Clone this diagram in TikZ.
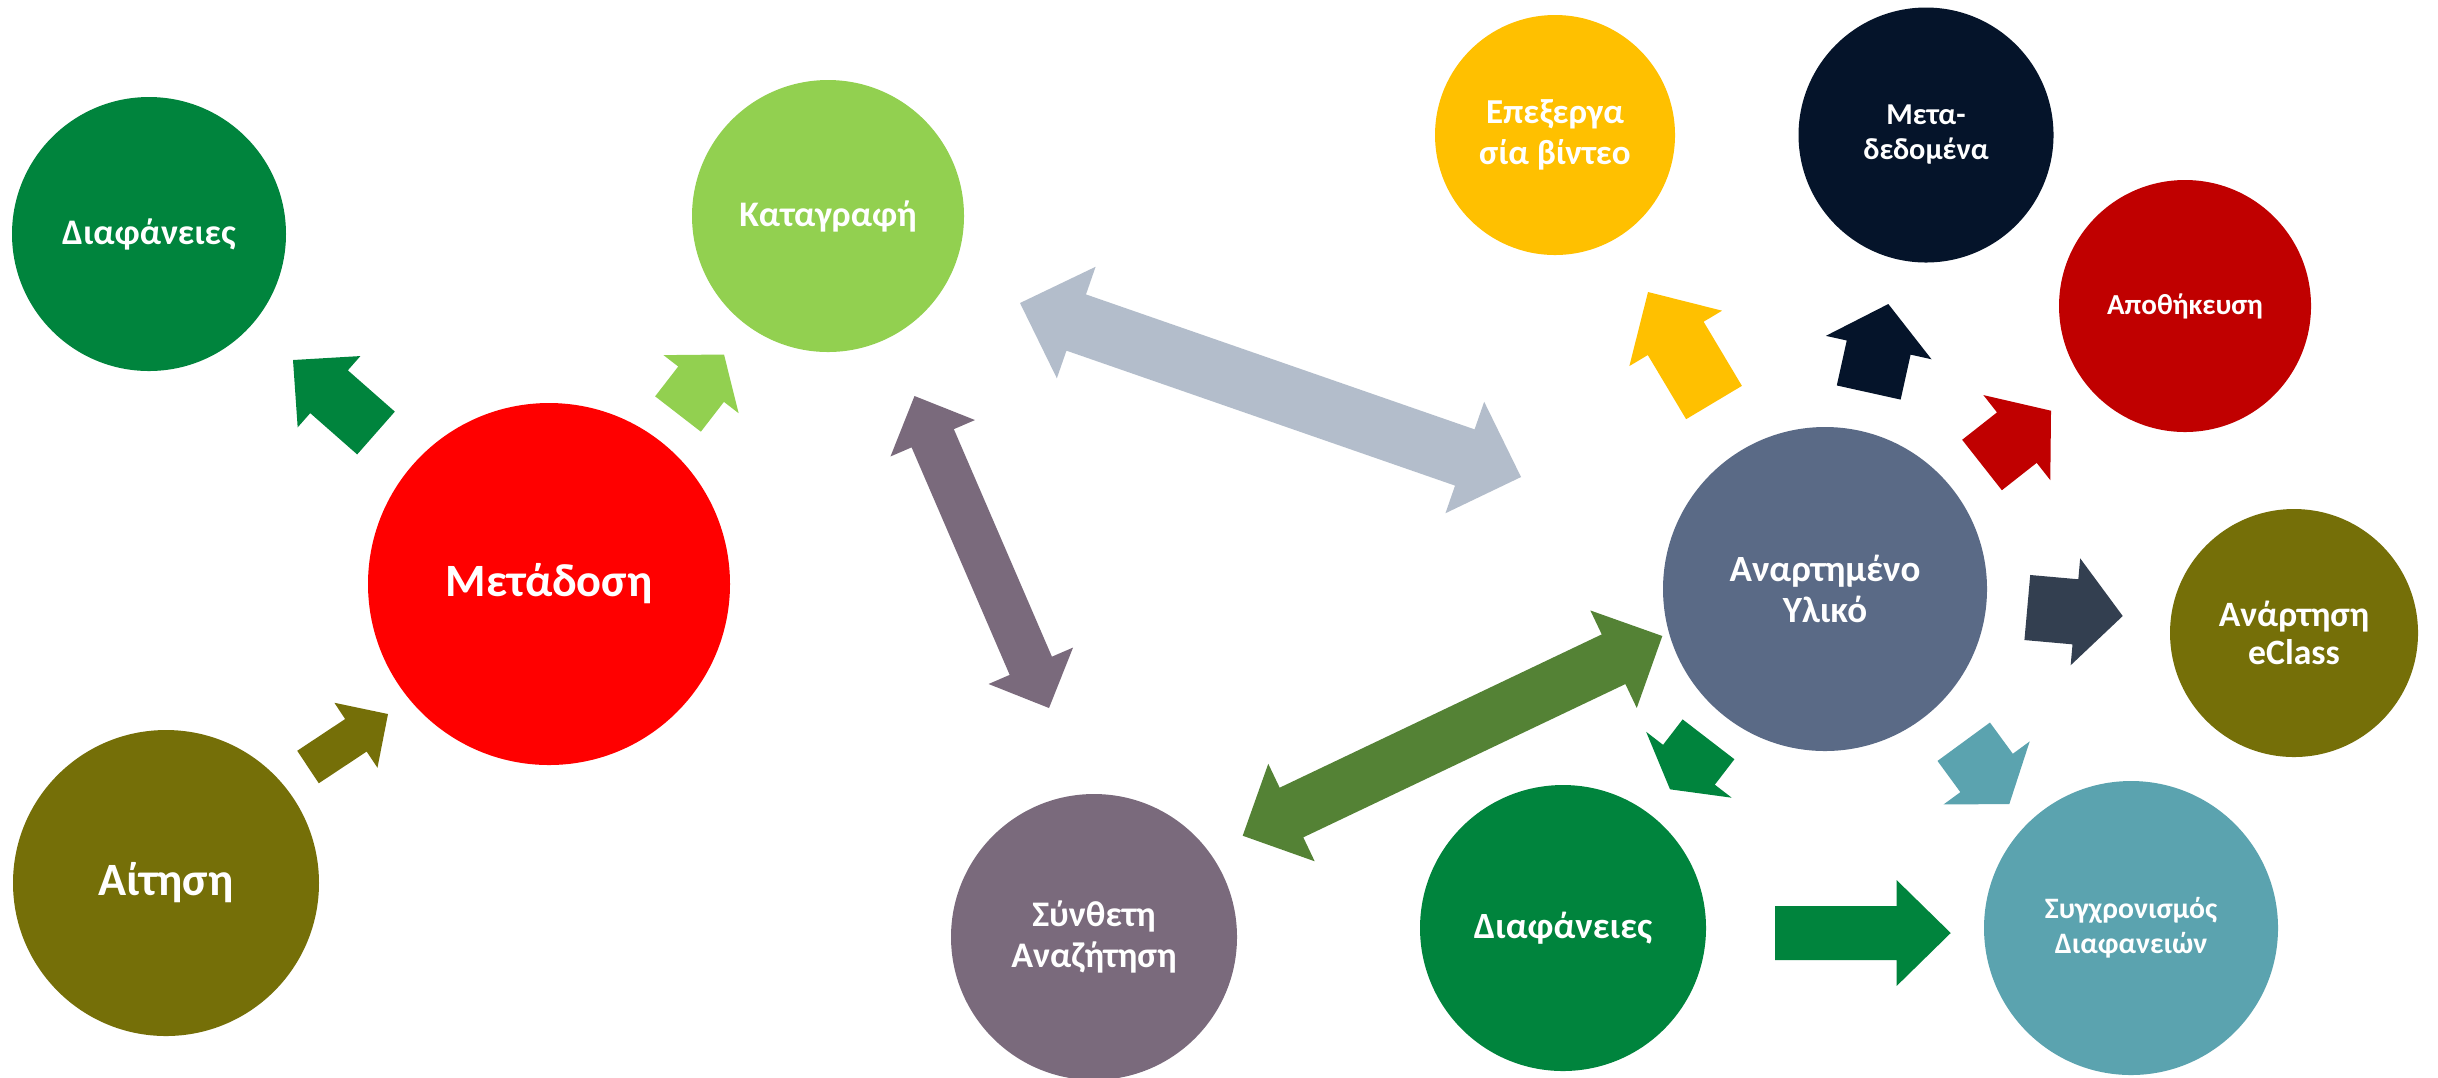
\documentclass[tikz,border=0pt]{standalone}
\usepackage{fontspec}
\setmainfont{Carlito}
\usetikzlibrary{calc}
\definecolor{cDkGreen}{RGB}{0,132,61}
\definecolor{cLtGreen}{RGB}{146,208,80}
\definecolor{cRed}{RGB}{255,0,0}
\definecolor{cOlive}{RGB}{117,111,8}
\definecolor{cYellow}{RGB}{255,192,0}
\definecolor{cNavy}{RGB}{5,20,42}
\definecolor{cDkRed}{RGB}{192,0,0}
\definecolor{cSlate}{RGB}{90,106,134}
\definecolor{cMauve}{RGB}{122,106,124}
\definecolor{cTeal}{RGB}{91,163,175}
\definecolor{cSteel}{RGB}{179,189,203}
\definecolor{cCharcoal}{RGB}{51,63,80}
\definecolor{cMoss}{RGB}{84,130,53}
% block arrow: #1 tail, #2 tip, #3 half shaft, #4 half head width, #5 head length, #6 colour
\newcommand\BArr[6]{%
  \coordinate (#2-h) at ($(#2)!#5!(#1)$);
  \fill[#6] ($(#1)!#3!90:(#2)$) -- ($(#2-h)!#3!90:(#2)$) -- ($(#2-h)!#4!90:(#2)$) -- (#2)
    -- ($(#2-h)!#4!-90:(#2)$) -- ($(#2-h)!#3!-90:(#2)$) -- ($(#1)!#3!-90:(#2)$) -- cycle;
}
% double block arrow: #1 tip a, #2 tip b
\newcommand\DArr[6]{%
  \coordinate (#1-h) at ($(#1)!#5!(#2)$);
  \coordinate (#2-h) at ($(#2)!#5!(#1)$);
  \fill[#6] (#1) -- ($(#1-h)!#4!90:(#2)$) -- ($(#1-h)!#3!90:(#2)$) -- ($(#2-h)!#3!-90:(#1)$)
    -- ($(#2-h)!#4!-90:(#1)$) -- (#2) -- ($(#2-h)!#4!90:(#1)$) -- ($(#2-h)!#3!90:(#1)$)
    -- ($(#1-h)!#3!-90:(#2)$) -- ($(#1-h)!#4!-90:(#2)$) -- cycle;
}
\begin{document}
\begin{tikzpicture}[x=0.3pt,y=-0.3pt,
  bubble/.style={circle, inner sep=0pt, align=center, text=white},
  fs/.style 2 args={font=\bfseries\fontsize{#1}{#2}\selectfont}]
\useasboundingbox (0,0) rectangle (2438,1077);
\fill[white] (0,0) rectangle (2438,1077);

\node[bubble, fill=cDkGreen, minimum size=82.2pt, fs={10.8pt}{13pt}] (dia1) at (149,234) {Διαφάνειες};
\node[bubble, fill=cLtGreen, minimum size=81.6pt, fs={10.8pt}{13pt}] (kat) at (828,216) {Καταγραφή};
\node[bubble, fill=cRed, minimum size=108.6pt, fs={13.9pt}{16pt}] (met) at (549,584) {Μετάδοση};
\node[bubble, fill=cOlive, minimum size=91.8pt, fs={13.9pt}{16pt}] (ait) at (166,883) {Αίτηση};
\node[bubble, fill=cYellow, minimum size=72pt, fs={10.5pt}{12.3pt}] (epe) at (1555,135) {Επεξεργα\\σία βίντεο};
\node[bubble, fill=cNavy, minimum size=76.5pt, fs={9.1pt}{10.5pt}] (mdd) at (1926,135) {Μετα-\\δεδομένα};
\node[bubble, fill=cDkRed, minimum size=75.6pt, fs={8.7pt}{10pt}] (apo) at (2185,306) {Αποθήκευση};
\node[bubble, fill=cSlate, minimum size=97.2pt, fs={11.1pt}{12.2pt}] (ana) at (1825,589) {Αναρτημένο\\Υλικό};
\node[bubble, fill=cOlive, minimum size=74.4pt, fs={10.7pt}{11.6pt}] (ecl) at (2294,633) {Ανάρτηση\\eClass};
\node[bubble, fill=cMauve, minimum size=85.8pt, fs={10.8pt}{12.3pt}] (syn) at (1094,937) {Σύνθετη\\Αναζήτηση};
\node[bubble, fill=cDkGreen, minimum size=85.8pt, fs={11.1pt}{13pt}] (dia2) at (1563,928) {Διαφάνειες};
\node[bubble, fill=cTeal, minimum size=88.2pt, fs={8.9pt}{10.4pt}] (syg) at (2131,928) {Συγχρονισμός\\Διαφανειών};

% arrow end points
\coordinate (a1s) at (376,433);    \coordinate (a1e) at (293,360);
\coordinate (a2s) at (678,414);    \coordinate (a2e) at (724,354.5);
\coordinate (a3s) at (308,767);    \coordinate (a3e) at (388,714);
\coordinate (d1a) at (914.5,396);  \coordinate (d1b) at (1049,708);
\coordinate (d2a) at (1020,303);   \coordinate (d2b) at (1521,477);
\coordinate (d3a) at (1242.7,835.7); \coordinate (d3b) at (1662.3,636);
\coordinate (a4s) at (1714,402.5); \coordinate (a4e) at (1648,292);
\coordinate (a5s) at (1868.7,392.5); \coordinate (a5e) at (1888.3,304);
\coordinate (a6s) at (1982,465);   \coordinate (a6e) at (2051,410.7);
\coordinate (a7s) at (2027.3,607.5); \coordinate (a7e) at (2122.7,616);
\coordinate (a8s) at (1708.5,739.3); \coordinate (a8e) at (1670,789.3);
\coordinate (a9s) at (1963.7,741.7); \coordinate (a9e) at (2009.3,804);
\coordinate (a10s) at (1775,933);  \coordinate (a10e) at (1950.7,933);

\BArr{a1s}{a1e}{8.55pt}{14.25pt}{14.4pt}{cDkGreen}
\BArr{a2s}{a2e}{8.67pt}{14.25pt}{11.25pt}{cLtGreen}
\BArr{a3s}{a3e}{5.85pt}{11.7pt}{11.55pt}{cOlive}
\DArr{d1a}{d1b}{6.9pt}{13.8pt}{13.8pt}{cMauve}
\DArr{d2a}{d2b}{8.93pt}{17.7pt}{17.85pt}{cSteel}
\DArr{d3a}{d3b}{8.25pt}{16.2pt}{16.2pt}{cMoss}
\BArr{a4s}{a4e}{9.75pt}{16.2pt}{16.2pt}{cYellow}
\BArr{a5s}{a5e}{9.81pt}{16.23pt}{13.38pt}{cNavy}
\BArr{a6s}{a6e}{9.63pt}{16.23pt}{13.05pt}{cDkRed}
\BArr{a7s}{a7e}{9.8pt}{16.1pt}{14.25pt}{cCharcoal}
\BArr{a8s}{a8e}{9.8pt}{16.2pt}{9.3pt}{cDkGreen}
\BArr{a9s}{a9e}{9.75pt}{16.02pt}{11.55pt}{cTeal}
\BArr{a10s}{a10e}{8.1pt}{15.86pt}{16.2pt}{cDkGreen}
\end{tikzpicture}
\end{document}
